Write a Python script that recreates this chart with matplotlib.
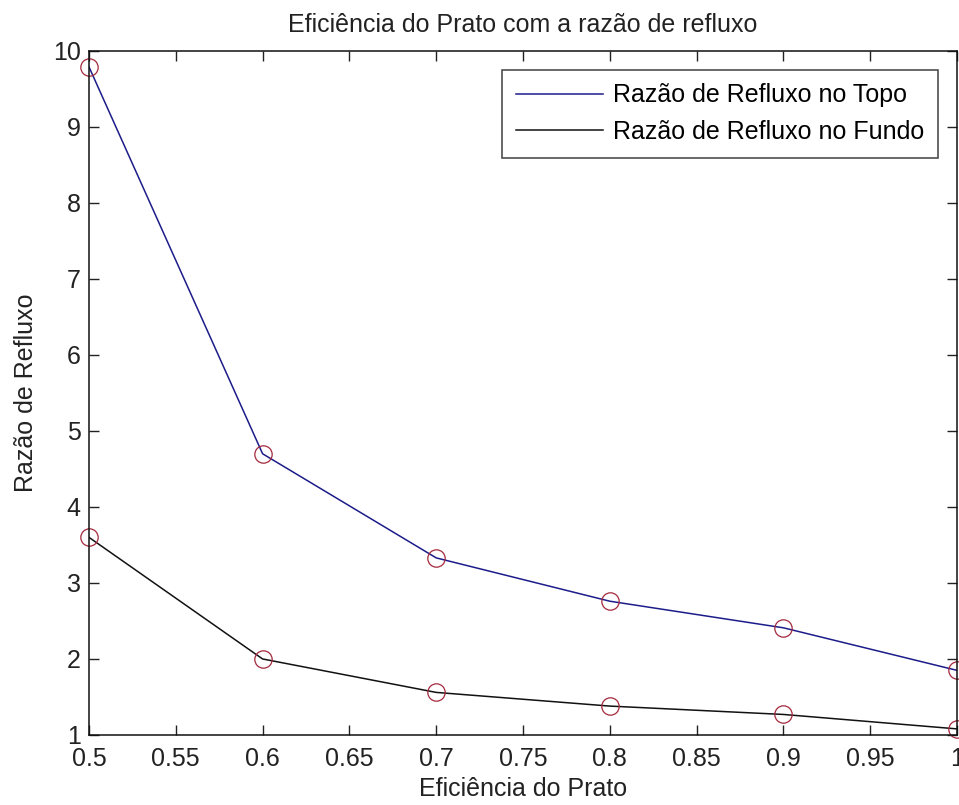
import matplotlib.pyplot as plt
import numpy as np

plt.rcParams['font.family'] = ['Liberation Sans', 'DejaVu Sans']

eficiencia = [0.5, 0.6, 0.7, 0.8, 0.9, 1.0]
refluxo_topo = [9.79, 4.70, 3.33, 2.76, 2.41, 1.85]
refluxo_fundo = [3.60, 2.00, 1.56, 1.38, 1.27, 1.08]

xticks = [0.5, 0.55, 0.6, 0.65, 0.7, 0.75, 0.8, 0.85, 0.9, 0.95, 1.0]
xtick_labels = ['0.5', '0.55', '0.6', '0.65', '0.7', '0.75', '0.8', '0.85', '0.9', '0.95', '1']
yticks = list(range(1, 11))

fig = plt.figure(figsize=(9.59, 8.05), dpi=100)
ax = fig.add_axes([0.0928, 0.087, 0.9051, 0.8497])

ax.plot(eficiencia, refluxo_topo, color='#1c1c8a', lw=1.1, label='Razão de Refluxo no Topo')
ax.plot(eficiencia, refluxo_fundo, color='#111111', lw=1.1, label='Razão de Refluxo no Fundo')
# circulos vermelhos nos pontos (como 'ro' no matlab)
ax.plot(eficiencia, refluxo_topo, 'o', mfc='none', mec='#a3283c', ms=12.5, mew=0.9, clip_on=False)
ax.plot(eficiencia, refluxo_fundo, 'o', mfc='none', mec='#a3283c', ms=12.5, mew=0.9, clip_on=False)

ax.set_xlim(0.5, 1.0)
ax.set_ylim(1, 10)
ax.set_xticks(xticks)
ax.set_xticklabels(xtick_labels)
ax.set_yticks(yticks)
ax.tick_params(direction='in', length=7, width=1, top=True, right=True,
               labelsize=18, colors='#222222')
ax.tick_params(axis='x', pad=9)
ax.tick_params(axis='y', pad=6)
for s in ax.spines.values():
    s.set_linewidth(1.1)
    s.set_color('#111111')

ax.set_title('Eficiência do Prato com a razão de refluxo', fontsize=18, pad=14, color='#222222')
ax.set_xlabel('Eficiência do Prato', fontsize=18, labelpad=4, color='#222222')
ax.set_ylabel('Razão de Refluxo', fontsize=18, labelpad=11, color='#222222')

leg = ax.legend(loc='upper right', fontsize=18, frameon=True, fancybox=False,
                edgecolor='#111111', handlelength=3.5, handletextpad=0.4,
                borderaxespad=0.75, labelspacing=0.5, borderpad=0.55)
leg.get_frame().set_linewidth(1.1)

fig.savefig('out.png', dpi=100)
